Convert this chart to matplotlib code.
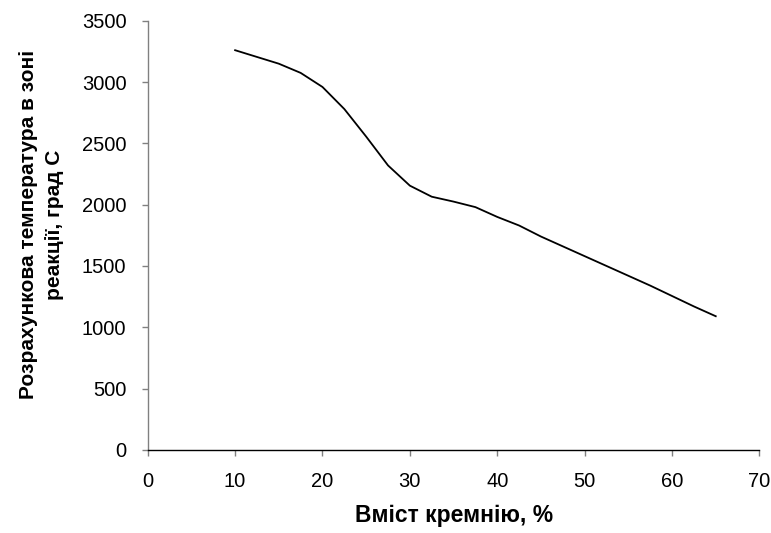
import matplotlib
matplotlib.use("Agg")
import matplotlib.pyplot as plt

# Вміст кремнію, % і розрахункова температура, град С
silicon = [10, 12.5, 15, 17.5, 20, 22.5, 25, 27.5, 30, 32.5, 35, 37.5, 40,
           42.5, 45, 47.5, 50, 52.5, 55, 57.5, 60, 62.5, 65]
temperature = [3260, 3205, 3150, 3075, 2960, 2780, 2555, 2320, 2155, 2065,
               2025, 1980, 1900, 1830, 1740, 1660, 1580, 1500, 1420, 1340,
               1255, 1170, 1090]

x_ticks = [0, 10, 20, 30, 40, 50, 60, 70]
y_ticks = [0, 500, 1000, 1500, 2000, 2500, 3000, 3500]

plt.rcParams['font.family'] = ['Liberation Sans', 'DejaVu Sans']

fig = plt.figure(figsize=(7.71, 5.33), dpi=100)
ax = fig.add_axes([0.1916, 0.156, 0.7934, 0.805])

ax.plot(silicon, temperature, color='black', linewidth=1.3)

ax.set_xlim(0, 70)
ax.set_ylim(0, 3500)
ax.set_xticks(x_ticks)
ax.set_yticks(y_ticks)
ax.tick_params(labelsize=14.5, length=4.3, width=1, color='#808080')
ax.tick_params(axis='x', pad=12)
ax.tick_params(axis='y', pad=11)

for side in ['top', 'right']:
    ax.spines[side].set_visible(False)
ax.spines['left'].set_color('#808080')
ax.spines['bottom'].set_color('black')
ax.spines['left'].set_linewidth(1)
ax.spines['bottom'].set_linewidth(1)

ax.set_xlabel('Вміст кремнію, %', fontsize=16.5, fontweight='bold', labelpad=9)
ax.set_ylabel('Розрахункова температура в зоні\nреакції, град С',
              fontsize=15, fontweight='bold', labelpad=13, linespacing=1.45)
ax.yaxis.label.set_y(0.525)

fig.savefig('out.png', dpi=100)
